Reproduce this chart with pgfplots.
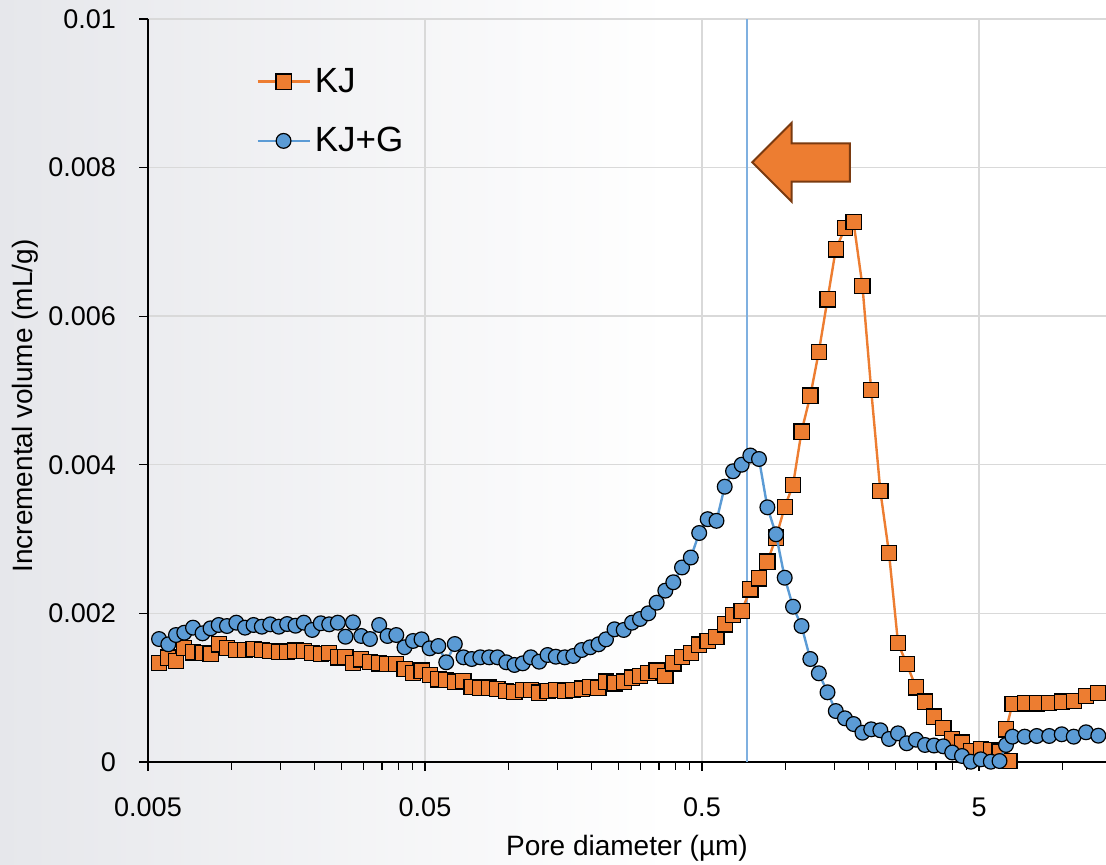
\documentclass[border=0pt]{standalone}
\usepackage{fontspec}
\setmainfont{Liberation Sans}
\usepackage{pgfplots}
\usepackage{pgfplotstable}
\pgfplotsset{compat=1.18}
\definecolor{kjorange}{HTML}{ED7D31}
\definecolor{kjblue}{HTML}{5B9BD5}
\definecolor{vline}{HTML}{7FB0E0}
\definecolor{arrowedge}{HTML}{7A3A10}
\definecolor{gridgray}{HTML}{D9D9D9}
\definecolor{bgleft}{HTML}{E6E7EB}

\pgfplotstableread{
d v
0.00548 0.001336
0.00592 0.001404
0.00631 0.001359
0.00676 0.001538
0.00727 0.001476
0.00787 0.001471
0.00841 0.001454
0.00900 0.001584
0.00964 0.001538
0.01042 0.001507
0.01120 0.001507
0.01202 0.001517
0.01288 0.001507
0.01381 0.001494
0.01483 0.001485
0.01590 0.001485
0.01704 0.001498
0.01826 0.001494
0.01958 0.001463
0.02102 0.001454
0.02255 0.001471
0.02423 0.001409
0.02582 0.001417
0.02748 0.001336
0.02943 0.001382
0.03165 0.001346
0.03416 0.001328
0.03661 0.001315
0.03939 0.001315
0.04217 0.001248
0.04526 0.001194
0.04857 0.001231
0.05200 0.001171
0.05585 0.001113
0.05965 0.001104
0.06406 0.001081
0.06886 0.001090
0.07372 0.001013
0.07918 0.001000
0.08527 0.001000
0.09135 0.000983
0.09828 0.000956
0.1052 0.000946
0.1127 0.000969
0.1205 0.000969
0.1292 0.000933
0.1385 0.000956
0.1483 0.000969
0.1598 0.000960
0.1715 0.000969
0.1840 0.000987
0.1974 0.001013
0.2115 0.001000
0.2251 0.001081
0.2416 0.001059
0.2608 0.001081
0.2795 0.001135
0.2987 0.001157
0.3200 0.001194
0.3431 0.001229
0.3686 0.001157
0.3939 0.001328
0.4235 0.001417
0.4556 0.001463
0.4885 0.001581
0.5242 0.001625
0.5640 0.001682
0.6040 0.001853
0.6472 0.001978
0.6955 0.002036
0.7472 0.002324
0.8030 0.002472
0.8610 0.002696
0.9249 0.003019
0.9944 0.003432
1.0655 0.003728
1.1436 0.004448
1.2302 0.004930
1.3206 0.005522
1.4193 0.006227
1.5205 0.006900
1.6411 0.007183
1.7628 0.007264
1.8979 0.006406
2.0407 0.005007
2.2019 0.003647
2.3666 0.002809
2.5508 0.001598
2.7415 0.001319
2.9618 0.001005
3.1923 0.000812
3.4400 0.000610
3.7162 0.000454
4.0008 0.000306
4.3410 0.000260
4.6705 0.000152
5.0753 0.000171
5.5154 0.000162
5.9294 0.000139
6.4327 0.000013
6.2588 0.000440
6.6055 0.000781
7.3110 0.000790
8.0787 0.000790
8.961 0.000798
9.945 0.000812
10.988 0.000825
12.17 0.000892
13.48 0.000925
}\kjdata

\pgfplotstableread{
d v
0.00548 0.001655
0.00592 0.001584
0.00631 0.001709
0.00676 0.001740
0.00727 0.001808
0.00787 0.001732
0.00841 0.001799
0.00900 0.001844
0.00964 0.001830
0.01042 0.001875
0.01120 0.001808
0.01202 0.001844
0.01288 0.001821
0.01381 0.001853
0.01483 0.001821
0.01590 0.001857
0.01704 0.001834
0.01826 0.001875
0.01958 0.001777
0.02102 0.001867
0.02255 0.001853
0.02423 0.001875
0.02582 0.001686
0.02748 0.001880
0.02943 0.001696
0.03165 0.001655
0.03416 0.001844
0.03661 0.001696
0.03939 0.001709
0.04217 0.001544
0.04526 0.001629
0.04857 0.001651
0.05200 0.001530
0.05585 0.001561
0.05965 0.001342
0.06406 0.001588
0.06886 0.001409
0.07372 0.001386
0.07918 0.001409
0.08527 0.001409
0.09135 0.001409
0.09828 0.001342
0.1052 0.001306
0.1127 0.001328
0.1205 0.001409
0.1292 0.001350
0.1385 0.001440
0.1483 0.001417
0.1598 0.001409
0.1715 0.001427
0.1840 0.001507
0.1974 0.001544
0.2115 0.001584
0.2251 0.001651
0.2416 0.001786
0.2608 0.001777
0.2795 0.001875
0.2987 0.001925
0.3200 0.002001
0.3431 0.002144
0.3686 0.002306
0.3939 0.002419
0.4235 0.002618
0.4556 0.002752
0.4885 0.003082
0.5242 0.003268
0.5640 0.003246
0.6040 0.003705
0.6472 0.003913
0.6955 0.004001
0.7472 0.004125
0.8030 0.004078
0.8610 0.003428
0.9249 0.003065
0.9944 0.002480
1.0655 0.002090
1.1436 0.001830
1.2302 0.001386
1.3206 0.001194
1.4193 0.000938
1.5205 0.000686
1.6411 0.000588
1.7628 0.000511
1.8979 0.000394
2.0407 0.000440
2.2019 0.000427
2.3666 0.000310
2.5508 0.000386
2.7415 0.000252
2.9618 0.000300
3.1923 0.000229
3.4400 0.000222
3.7162 0.000211
4.0008 0.000128
4.3410 0.000081
4.6705 0.000004
5.0753 0.000036
5.5154 0.000004
5.9294 0.000013
6.2588 0.000229
6.6055 0.000341
7.3110 0.000341
8.0787 0.000350
8.961 0.000350
9.945 0.000373
10.988 0.000341
12.17 0.000400
13.48 0.000354
}\kjgdata

\begin{document}
\begin{tikzpicture}
\shade[left color=bgleft, right color=white] (-74pt,-51.5pt) rectangle (260pt,381pt);
\begin{axis}[
  at={(0pt,0pt)}, anchor=south west,
  scale only axis, width=479pt, height=371.5pt,
  xmode=log, xmin=0.005, xmax=14.37, ymin=0, ymax=0.01,
  axis lines*=left,
  axis line style={black, line width=0.8pt},
  clip mode=individual,
  xtick={0.005,0.05,0.5,5}, xticklabels={0.005,0.05,0.5,5},
  minor xtick={0.01,0.015,0.02,0.025,0.03,0.035,0.04,0.045,0.1,0.15,0.2,0.25,0.3,0.35,0.4,0.45,1,1.5,2,2.5,3,3.5,4,4.5,10},
  ytick={0,0.002,0.004,0.006,0.008,0.01}, yticklabels={0,0.002,0.004,0.006,0.008,0.01},
  scaled y ticks=false,
  xmajorgrids, ymajorgrids,
  grid style={gridgray, line width=0.7pt},
  tick align=outside, major tick length=4.5pt, minor tick length=4pt,
  tick style={black, line width=0.6pt},
  ticklabel style={font=\fontsize{13.5}{16}\selectfont},
  xticklabel shift=10pt,
  yticklabel shift=8pt,
  xlabel={Pore diameter (µm)},
  ylabel={Incremental volume (mL/g)},
  xlabel style={at={(axis description cs:0.5,0)}, anchor=north, yshift=-33pt, font=\fontsize{14}{17}\selectfont},
  ylabel style={at={(axis description cs:-0.1284,0.479)}, anchor=center, font=\fontsize{14}{17}\selectfont},
  legend style={at={(rel axis cs:0.1127,0.8757)}, anchor=west, draw=none, fill=none,
    font=\fontsize{17.5}{20}\selectfont, row sep=12pt, inner sep=0pt},
  legend cell align=left,
  legend image code/.code={\draw[mark repeat=2,mark phase=2,#1] plot coordinates {(0pt,0pt)(13pt,0pt)(26pt,0pt)};},
]
\addplot[vline, line width=0.9pt, forget plot] coordinates {(0.727,0) (0.727,0.01)};
\addplot[kjorange, line width=1.2pt, mark=square*, mark size=3.8pt,
  mark options={fill=kjorange, draw=black, line width=0.6pt}] table[x=d,y=v] {\kjdata};
\addlegendentry{KJ}
\addplot[kjblue, line width=1.2pt, mark=*, mark size=3.7pt,
  mark options={fill=kjblue, draw=black, line width=0.6pt}] table[x=d,y=v] {\kjgdata};
\addlegendentry{KJ+G}
\draw[fill=kjorange, draw=arrowedge, line width=1pt, line join=miter]
  (axis cs:0.7595,0.008071) -- (axis cs:1.054,0.008604) -- (axis cs:1.054,0.008327)
  -- (axis cs:1.711,0.008327) -- (axis cs:1.711,0.007810) -- (axis cs:1.054,0.007810)
  -- (axis cs:1.054,0.007541) -- cycle;
\end{axis}
\pgfresetboundingbox
\useasboundingbox (-74pt,-51.5pt) rectangle (479pt,381pt);
\end{tikzpicture}
\end{document}
